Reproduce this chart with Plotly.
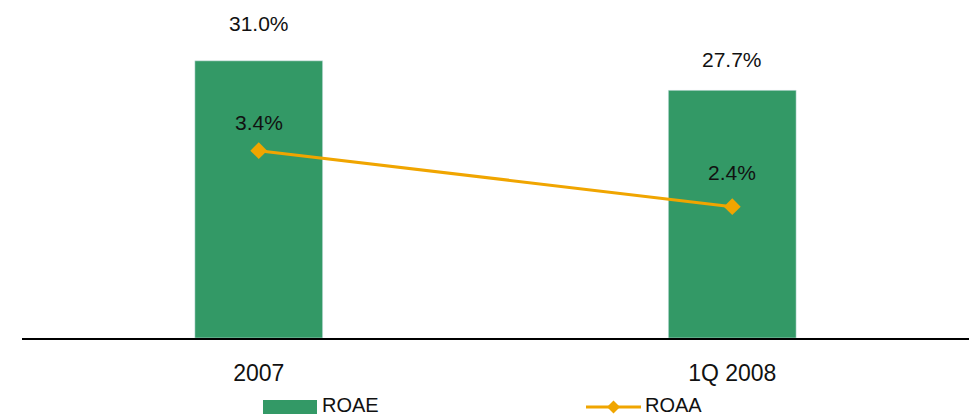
import plotly.graph_objects as go

categories = ["2007", "1Q 2008"]
roae = [31.0, 27.7]
roaa = [3.4, 2.4]
roae_labels = ["31.0%", "27.7%"]
roaa_labels = ["3.4%", "2.4%"]

W, H = 976, 416
ML, MR, MT, MB = 22, 7, 0, 78
PW, PH = W - ML - MR, H - MT - MB

GREEN = "#339966"
ORANGE = "#F0A500"
FONT = "Liberation Sans, Arial, sans-serif"

fig = go.Figure()
fig.add_trace(go.Bar(x=categories, y=roae, name="ROAE", marker_color=GREEN,
                     width=0.27, showlegend=False, yaxis="y"))
fig.add_trace(go.Scatter(x=categories, y=roaa, name="ROAA", mode="lines+markers",
                         line=dict(color=ORANGE, width=3),
                         marker=dict(symbol="diamond", size=13, color=ORANGE),
                         showlegend=False, yaxis="y2"))

bar_shifts = [37, 31]
line_shifts = [28, 34]
for i, (v, t, s) in enumerate(zip(roae, roae_labels, bar_shifts)):
    fig.add_annotation(x=i, y=v, xref="x", yref="y", text=t, showarrow=False,
                       yanchor="middle", yshift=s, font=dict(size=21, color="#111"))
for i, (v, t, s) in enumerate(zip(roaa, roaa_labels, line_shifts)):
    fig.add_annotation(x=i, y=v, xref="x", yref="y2", text=t, showarrow=False,
                       yanchor="middle", yshift=s, font=dict(size=21, color="#111"))

def px(x):
    return (x - ML) / PW

def py(y):
    return (MT + PH - y) / PH

# manual legend
fig.add_shape(type="rect", xref="paper", yref="paper",
              x0=px(263), x1=px(317), y0=py(400), y1=py(414),
              fillcolor=GREEN, line=dict(width=0))
fig.add_annotation(xref="paper", yref="paper", x=px(321), y=py(405), text="ROAE",
                   showarrow=False, xanchor="left", yanchor="middle", borderpad=0,
                   font=dict(size=20, color="#111"))
fig.add_shape(type="line", xref="paper", yref="paper",
              x0=px(586), x1=px(641), y0=py(407), y1=py(407),
              line=dict(color=ORANGE, width=3))
cx, cy, r = 613.5, 407, 6.5
fig.add_shape(type="path", xref="paper", yref="paper",
              path=f"M {px(cx-r)} {py(cy)} L {px(cx)} {py(cy-r)} L {px(cx+r)} {py(cy)} L {px(cx)} {py(cy+r)} Z",
              fillcolor=ORANGE, line=dict(width=0))
fig.add_annotation(xref="paper", yref="paper", x=px(644), y=py(405), text="ROAA",
                   showarrow=False, xanchor="left", yanchor="middle", borderpad=0,
                   font=dict(size=20, color="#111"))

fig.update_layout(
    width=W, height=H,
    margin=dict(l=ML, r=MR, t=MT, b=MB, pad=0),
    paper_bgcolor="white", plot_bgcolor="white",
    font=dict(family=FONT, size=20, color="#111"),
    xaxis=dict(type="category", range=[-0.5, 1.5], showline=True, linecolor="black",
               linewidth=2, ticks="", showgrid=False, zeroline=False,
               ticklabelstandoff=13, tickfont=dict(size=23, color="#111")),
    yaxis=dict(range=[0, 37.8], visible=False, showgrid=False, zeroline=False),
    yaxis2=dict(range=[0.055, 6.09], overlaying="y", side="right",
                visible=False, showgrid=False, zeroline=False),
)

fig.write_html("out.html")
